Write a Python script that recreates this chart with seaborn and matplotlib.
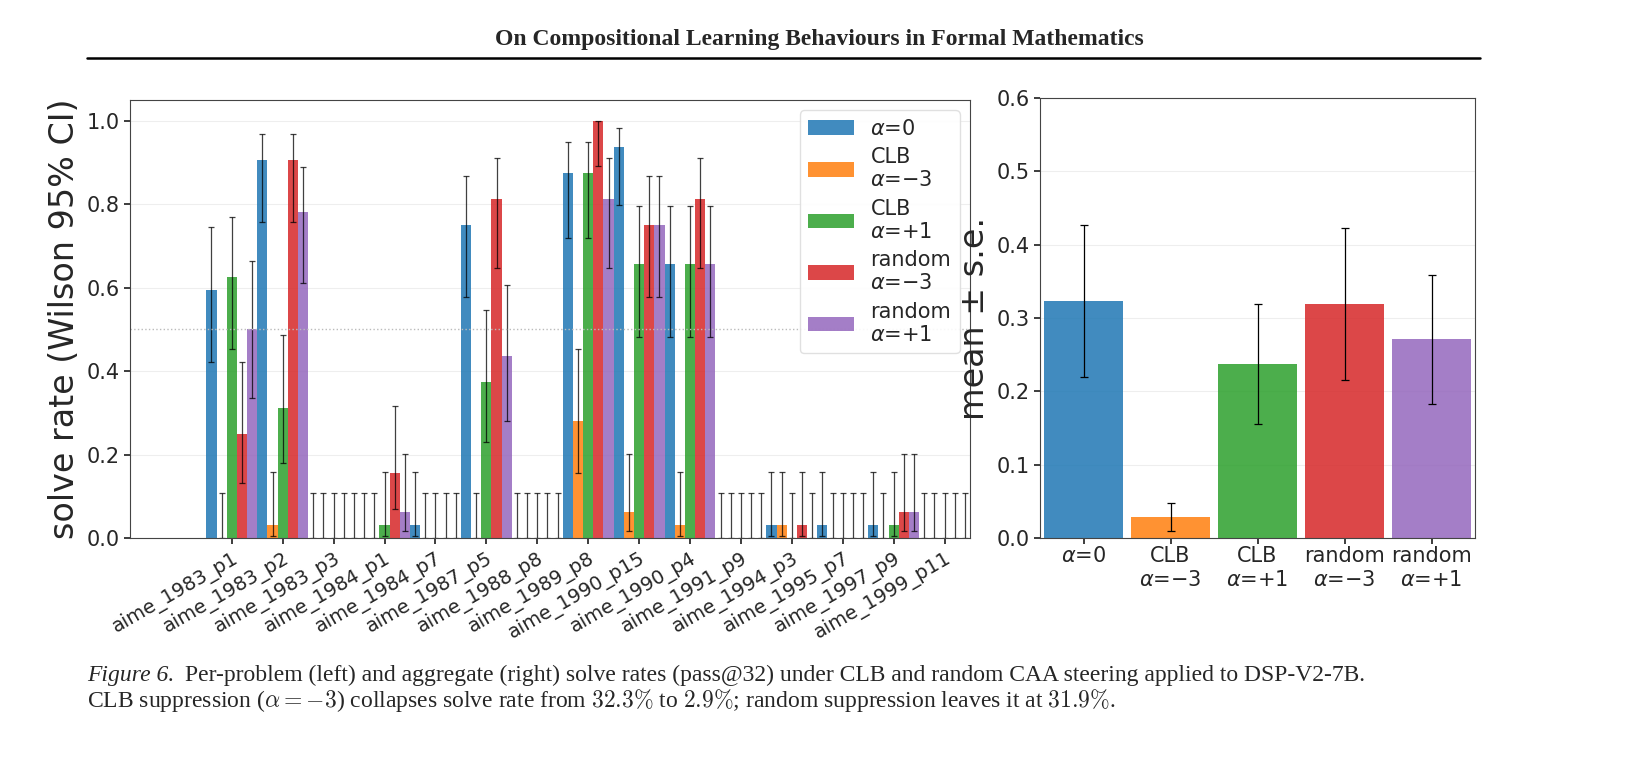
import numpy as np
import pandas as pd
import matplotlib
matplotlib.use("Agg")
import matplotlib.pyplot as plt
import seaborn as sns

problems = ["aime_1983_p1", "aime_1983_p2", "aime_1983_p3", "aime_1984_p1", "aime_1984_p7",
            "aime_1987_p5", "aime_1988_p8", "aime_1989_p8", "aime_1990_p15", "aime_1990_p4",
            "aime_1991_p9", "aime_1994_p3", "aime_1995_p7", "aime_1997_p9", "aime_1999_p11"]
conditions = ["$\\alpha$=0", "CLB\n$\\alpha$=$-3$", "CLB\n$\\alpha$=+1",
              "random\n$\\alpha$=$-3$", "random\n$\\alpha$=+1"]
alpha0   = [0.594, 0.906, 0, 0,     0.031, 0.75,  0, 0.875, 0.9375, 0.656, 0, 0.031, 0.031, 0.031, 0]
clb_m3   = [0,     0.031, 0, 0,     0,     0,     0, 0.281, 0.0625, 0.031, 0, 0.031, 0,     0,     0]
clb_p1   = [0.625, 0.3125,0, 0.031, 0,     0.375, 0, 0.875, 0.656,  0.656, 0, 0,     0,     0.031, 0]
rand_m3  = [0.25,  0.906, 0, 0.156, 0,     0.8125,0, 1.0,   0.75,   0.8125,0, 0.031, 0,     0.0625,0]
rand_p1  = [0.5,   0.781, 0, 0.0625,0,     0.4375,0, 0.8125,0.75,   0.656, 0, 0,     0,     0.0625,0]
n_samples = 32

agg_mean = [0.323, 0.029, 0.237, 0.319, 0.271]
agg_se   = [0.104, 0.019, 0.082, 0.104, 0.088]

colors = ["#1f77b4", "#ff7f0e", "#2ca02c", "#d62728", "#9467bd"]

sns.set_theme(style="white")
plt.rcParams["font.family"] = ["DejaVu Sans"]
plt.rcParams["mathtext.fontset"] = "dejavusans"

series = [alpha0, clb_m3, clb_p1, rand_m3, rand_p1]
rows = []
for c, vals in zip(conditions, series):
    for p, v in zip(problems, vals):
        rows.append({"problem": p, "condition": c, "rate": v})
df = pd.DataFrame(rows)

def wilson(p, n, z=1.96):
    den = 1 + z**2 / n
    centre = (p + z**2 / (2 * n)) / den
    half = z * np.sqrt(p * (1 - p) / n + z**2 / (4 * n**2)) / den
    return max(0, centre - half), min(1, centre + half)

fig = plt.figure(figsize=(16.39, 7.59), dpi=100)
ax1 = fig.add_axes([130/1639, 1 - 538/759, 840/1639, 438/759])
ax2 = fig.add_axes([1040/1639, 1 - 538/759, 435/1639, 440/759])

sns.barplot(data=df, x="problem", y="rate", hue="condition", hue_order=conditions,
            palette=colors, width=1.0, errorbar=None, ax=ax1, alpha=0.85,
            edgecolor="none", saturation=1)
for i, vals in enumerate(series):
    for j, v in enumerate(vals):
        x = j - 0.4 + 0.2 * i
        lo, hi = wilson(v, n_samples)
        ax1.errorbar(x, v, yerr=[[v - lo], [hi - v]], fmt="none", ecolor="black",
                     elinewidth=0.9, capsize=2.5, capthick=0.9, alpha=0.75)
ax1.axhline(0.5, color="#bbbbbb", ls=":", lw=1)
ax1.set_xlim(-2.0, 14.5)
ax1.set_ylim(0, 1.05)
ax1.set_yticks(np.arange(0, 1.01, 0.2))
ax1.yaxis.grid(True, color="#eeeeee", lw=0.8)
ax1.set_axisbelow(True)
ax1.set_xlabel("")
ax1.set_ylabel("solve rate (Wilson 95% CI)", fontsize=24)
ax1.tick_params(axis="y", labelsize=15, left=True, length=4)
ax1.tick_params(axis="x", labelsize=14, bottom=True, length=4)
plt.setp(ax1.get_xticklabels(), rotation=30, ha="right", rotation_mode="anchor")
for s in ax1.spines.values():
    s.set_color("#444444"); s.set_linewidth(0.8)
ax1.legend(loc="upper right", fontsize=15, frameon=True, framealpha=0.9,
           edgecolor="#dddddd", handlelength=2.2, labelspacing=0.4)

agg = pd.DataFrame({"condition": conditions, "mean": agg_mean})
sns.barplot(data=agg, x="condition", y="mean", hue="condition", palette=colors,
            width=0.9, errorbar=None, ax=ax2, alpha=0.85, legend=False,
            edgecolor="none", saturation=1)
ax2.errorbar(range(len(conditions)), agg_mean, yerr=agg_se, fmt="none", ecolor="black",
             elinewidth=0.9, capsize=3, capthick=0.9)
ax2.set_ylim(0, 0.6)
ax2.set_xlim(-0.5, 4.5)
ax2.set_yticks(np.arange(0, 0.61, 0.1))
ax2.yaxis.grid(True, color="#eeeeee", lw=0.8)
ax2.set_axisbelow(True)
ax2.set_xlabel("")
ax2.set_ylabel("mean ± s.e.", fontsize=24)
ax2.tick_params(axis="both", labelsize=15, left=True, bottom=True, length=4)
ax2.tick_params(axis="x", pad=2)
for s in ax2.spines.values():
    s.set_color("#444444"); s.set_linewidth(0.8)

serif = ["Liberation Serif", "DejaVu Serif"]
fig.text(0.5, 1 - 40/759, "On Compositional Learning Behaviours in Formal Mathematics",
         ha="center", va="center", fontsize=17, fontweight="bold", family=serif)
fig.add_artist(plt.Line2D([87/1639, 1480/1639], [1 - 58/759, 1 - 58/759],
                          color="black", lw=1.8))
fig.text(87/1639, 1 - 675/759, "Figure 6.", ha="left", va="center", fontsize=17,
         style="italic", family=serif)
fig.text(185/1639, 1 - 675/759,
         "Per-problem (left) and aggregate (right) solve rates (pass@32) under CLB and random CAA steering applied to DSP-V2-7B.",
         ha="left", va="center", fontsize=17, family=serif)
fig.text(87/1639, 1 - 701/759,
         "CLB suppression ($\\alpha=-3$) collapses solve rate from $32.3\\%$ to $2.9\\%$; random suppression leaves it at $31.9\\%$.",
         ha="left", va="center", fontsize=17, family=serif, math_fontfamily="cm")

fig.savefig("out.png", dpi=100)
